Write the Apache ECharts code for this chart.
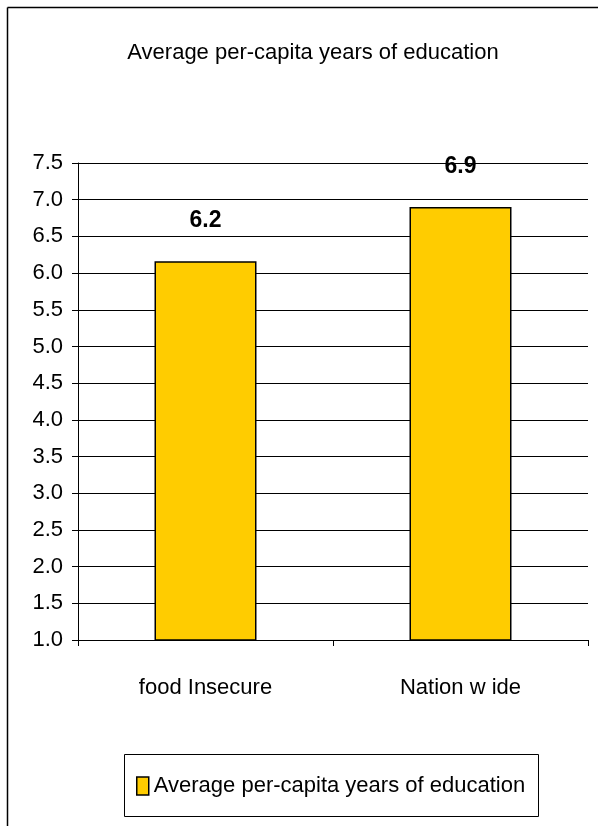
<!DOCTYPE html>
<html><head><meta charset="utf-8">
<script src="https://cdn.jsdelivr.net/npm/echarts@6/dist/echarts.min.js"></script>
<style>html,body{margin:0;padding:0;background:#fff}#c{width:598px;height:826px}</style>
</head><body><div id="c"></div>
<script>
const categories = ['food Insecure', 'Nation w ide'];
const values = [6.16, 6.9];
const seriesName = 'Average per-capita years of education';
const titleText = 'Average per-capita years of education';

const chart = echarts.init(document.getElementById('c'), null, {renderer: 'canvas'});
const font = 'Liberation Sans, Arial, sans-serif';
chart.setOption({
  animation: false,
  backgroundColor: '#fff',
  title: {text: titleText, left: 308, top: 37, textAlign: 'center',
    textStyle: {fontFamily: font, fontSize: 22, fontWeight: 'normal', color: '#000'}},
  graphic: [
    {type: 'line', shape: {x1: 7.5, y1: 7.5, x2: 598, y2: 7.5}, style: {stroke: '#000', lineWidth: 1.5}, silent: true},
    {type: 'line', shape: {x1: 7.5, y1: 7.5, x2: 7.5, y2: 826}, style: {stroke: '#000', lineWidth: 1.5}, silent: true},
    {type: 'rect', shape: {x: 124.5, y: 754.5, width: 414, height: 62}, style: {fill: 'none', stroke: '#000', lineWidth: 1}, silent: true}
  ],
  legend: {left: 131, top: 770, itemWidth: 12, itemHeight: 18, itemGap: 6,
    textStyle: {fontFamily: font, fontSize: 22, color: '#000'},
    data: [{name: seriesName, icon: 'rect', itemStyle: {color: '#FFCC00', borderColor: '#000', borderWidth: 1.5}}]},
  grid: {left: 78, right: 10, top: 163, bottom: 186, containLabel: false},
  xAxis: {type: 'category', data: categories,
    axisLine: {lineStyle: {color: '#000', width: 1}},
    axisTick: {show: true, alignWithLabel: false, length: 6, lineStyle: {color: '#000'}},
    axisLabel: {fontFamily: font, fontSize: 22, color: '#000', margin: 37}},
  yAxis: {type: 'value', min: 1.0, max: 7.5, interval: 0.5,
    axisLine: {show: true, lineStyle: {color: '#000', width: 1}},
    axisTick: {show: true, length: 6, lineStyle: {color: '#000'}},
    axisLabel: {fontFamily: font, fontSize: 22, color: '#000', margin: 15,
      formatter: v => v.toFixed(1)},
    splitLine: {show: true, lineStyle: {color: '#000', width: 1}}},
  series: [{name: seriesName, type: 'bar', data: values, barWidth: '40%',
    itemStyle: {color: '#FFCC00', borderColor: '#000', borderWidth: 1.5},
    label: {show: true, position: 'top', distance: 29, fontFamily: font, fontSize: 23, fontWeight: 'bold', color: '#000',
      formatter: p => p.value.toFixed(1)}}]
});
</script></body></html>
